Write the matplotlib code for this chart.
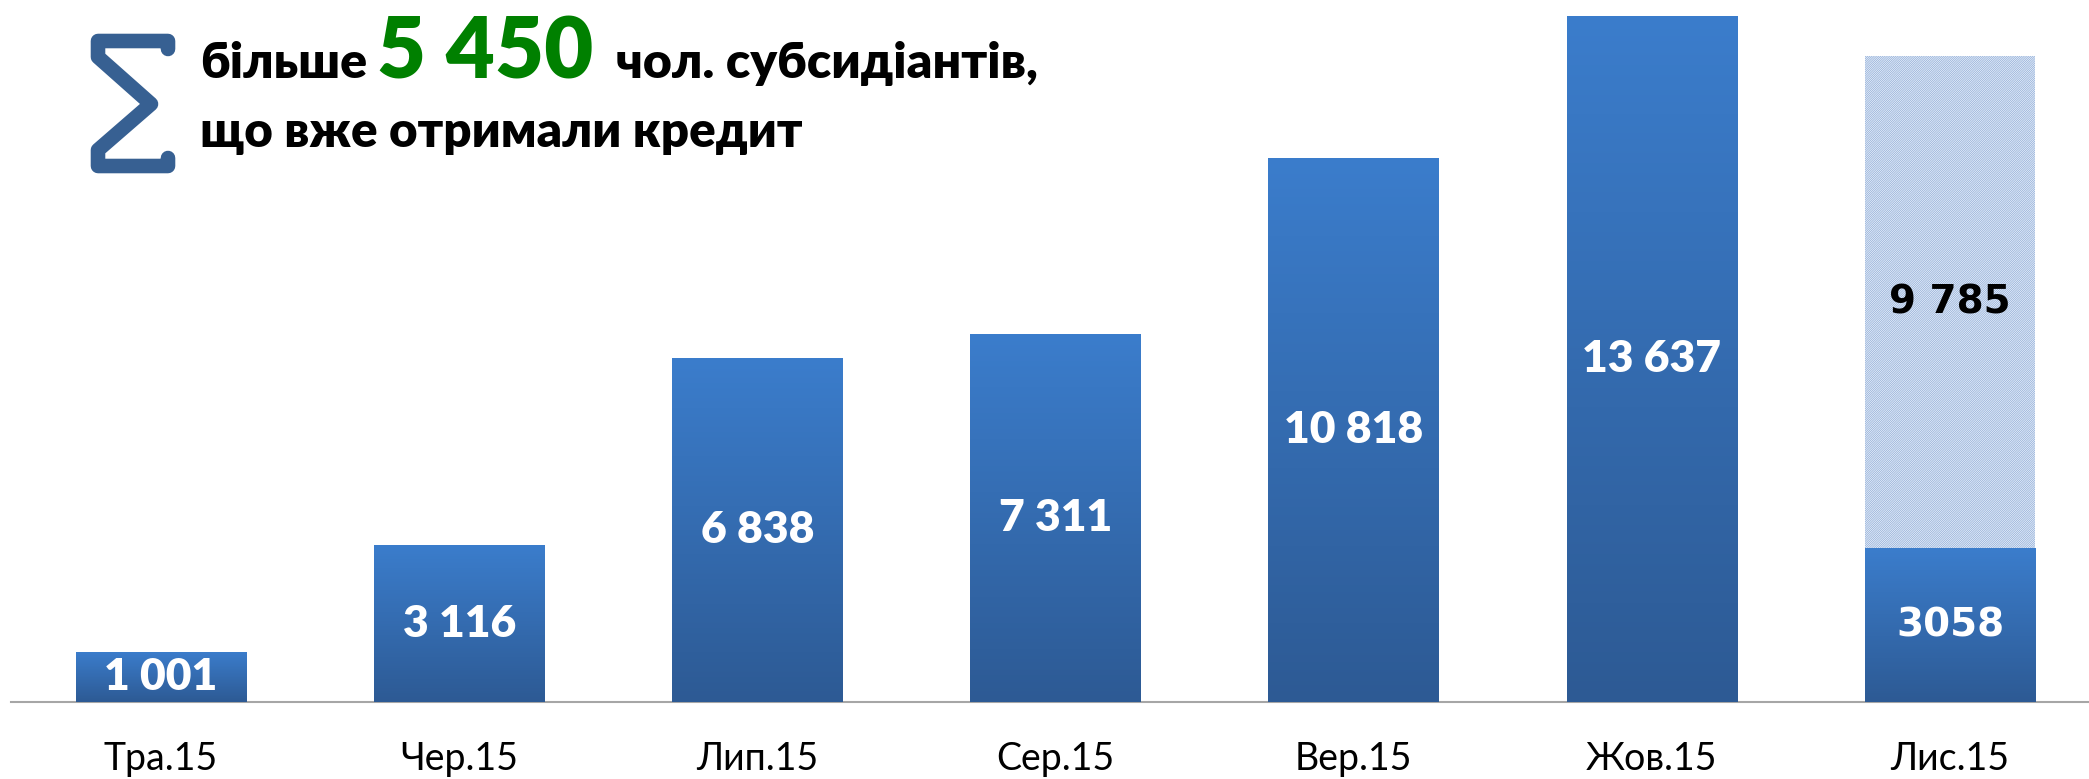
import numpy as np
import matplotlib
matplotlib.use("Agg")
import matplotlib.pyplot as plt
from matplotlib.colors import LinearSegmentedColormap

months = ["Тра.15", "Чер.15", "Лип.15", "Сер.15", "Вер.15", "Жов.15", "Лис.15"]
issued = [1001, 3116, 6838, 7311, 10818, 13637, 3058]
issued_labels = ["1 001", "3 116", "6 838", "7 311", "10 818", "13 637", "3058"]
expected_extra = [0, 0, 0, 0, 0, 0, 9785]
extra_labels = ["", "", "", "", "", "", "9 785"]

W, H = 2089, 779
fig = plt.figure(figsize=(W / 100, H / 100), dpi=100)
fig.patch.set_facecolor("white")

ax = fig.add_axes([11 / W, 77 / H, 1 - 11 / W, 1 - 77 / H])
x = np.arange(len(months))
bw = 0.572

cmap = LinearSegmentedColormap.from_list("bar", ["#2d5a94", "#3b7dcc"])
grad = np.linspace(0, 1, 256).reshape(-1, 1)

bars = ax.bar(x, issued, width=bw, color="#3570b5", linewidth=0, zorder=2)
for b in bars:
    x0, y0 = b.get_x(), b.get_y()
    im = ax.imshow(grad, extent=[x0, x0 + b.get_width(), y0, y0 + b.get_height()],
                   origin="lower", aspect="auto", cmap=cmap, zorder=3)
    im.set_clip_path(b)

plt.rcParams["hatch.linewidth"] = 0.45
extra = ax.bar(x, expected_extra, width=bw, bottom=issued, facecolor="white",
               edgecolor="#7b9fd3", hatch="/" * 18, linewidth=0, zorder=2)

lab_font = ["Lato", "DejaVu Sans"]
for i, b in enumerate(bars):
    if i == len(bars) - 1:
        fam, fs, fw = ["DejaVu Sans"], 28, "bold"
    else:
        fam, fs, fw = lab_font, 32, "heavy"
    ax.text(b.get_x() + bw / 2, issued[i] / 2, issued_labels[i], ha="center",
            va="center", color="white", fontsize=fs, fontweight=fw,
            family=fam, zorder=5)
for i, b in enumerate(extra):
    if expected_extra[i]:
        ax.text(b.get_x() + bw / 2, issued[i] + expected_extra[i] / 2, extra_labels[i],
                ha="center", va="center", color="black", fontsize=28,
                fontweight="bold", family=["DejaVu Sans"], zorder=5)

ax.set_xlim(-0.503, 6.466)
ax.set_ylim(0, 13955)
ax.set_xticks(x)
ax.set_xticklabels(months, fontsize=27, family=lab_font)
ax.tick_params(axis="x", length=0, pad=28)
ax.set_yticks([])
for s in ["top", "right", "left"]:
    ax.spines[s].set_visible(False)
ax.spines["bottom"].set_color("#a6a6a6")
ax.spines["bottom"].set_linewidth(1.5)

# overlay in pixel coordinates for the heading
ov = fig.add_axes([0, 0, 1, 1])
ov.set_xlim(0, W)
ov.set_ylim(H, 0)
ov.axis("off")
ov.patch.set_alpha(0)

sx = [168, 168, 98, 98, 151, 98, 98, 168, 168]
sy = [49, 41, 41, 57, 104, 150, 166, 166, 158]
ov.plot(sx, sy, color="#376092", linewidth=10.5, solid_joinstyle="round",
        solid_capstyle="round")

ov.text(200, 78, "більше", fontsize=36, fontweight="heavy", family=lab_font,
        va="baseline", ha="left")
ov.text(377, 78, "5 450", fontsize=61, fontweight="heavy", family=lab_font,
        color="#008000", va="baseline", ha="left")
ov.text(616, 78, "чол. субсидіантів,", fontsize=36, fontweight="heavy",
        family=lab_font, va="baseline", ha="left")
ov.text(200, 147, "що вже отримали кредит", fontsize=35.5, fontweight="heavy",
        family=lab_font, va="baseline", ha="left")

fig.savefig("out.png", dpi=100)
